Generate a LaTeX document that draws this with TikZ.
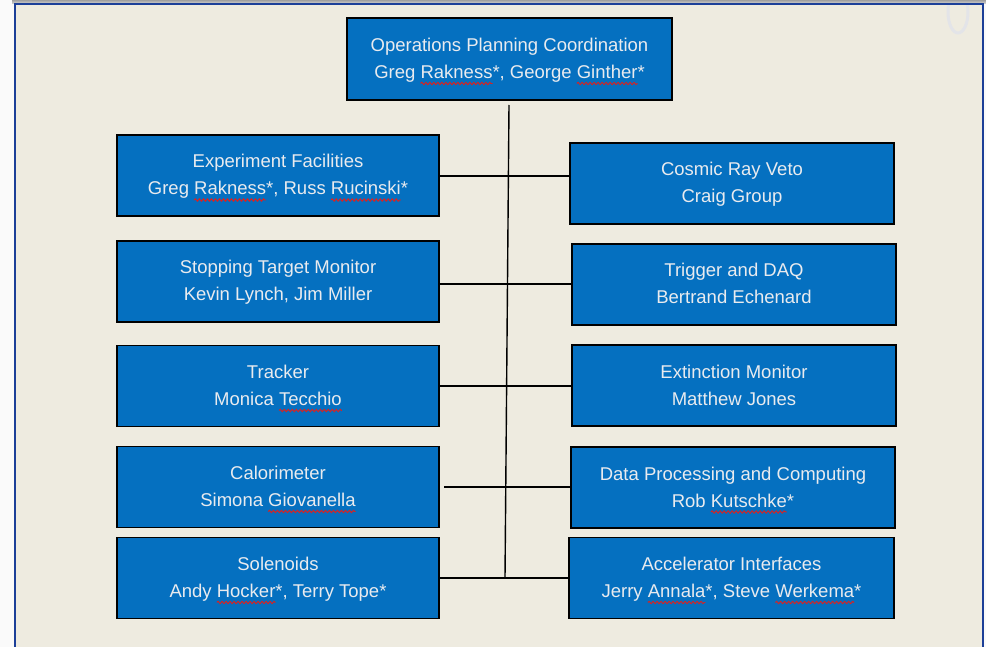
\documentclass[tikz,border=0pt]{standalone}
\usepackage{fontspec}
\setmainfont{Liberation Sans}
\usetikzlibrary{decorations.pathmorphing}
\definecolor{bg}{HTML}{EEEBE0}
\definecolor{frameblue}{HTML}{1C3F98}
\definecolor{boxblue}{HTML}{0570C0}
\definecolor{txt}{HTML}{E9EBEF}
\definecolor{ghost}{HTML}{E3E4E8}
\definecolor{spell}{HTML}{E0201C}
\newbox\sqbox
\newdimen\sqwd
\newcommand\sq[1]{\setbox\sqbox\hbox{#1}\sqwd=\wd\sqbox
  \tikz[overlay,baseline=0pt,x=1pt,y=1pt]\draw[fill=none,draw=spell,line width=0.9pt,
    decorate,decoration={snake,amplitude=1.2pt,segment length=4pt}]
    (0pt,-5pt) -- (\sqwd,-5pt);\box\sqbox}
\tikzset{
  box/.style={draw=black, line width=1.3pt, fill=boxblue, text=txt,
    font=\fontsize{18.5}{27}\selectfont, align=center, inner sep=0pt,
    text height=43pt, text depth=4pt, minimum height=81pt},
  lbox/.style={box, minimum width=322pt},
  rbox/.style={box, minimum width=324pt},
  conn/.style={draw=black, line width=1.4pt}
}
\begin{document}
\begin{tikzpicture}[x=1pt,y=-1pt]
\useasboundingbox (0,0) rectangle (986,647);
% page background
\fill[white!96!gray] (0,0) rectangle (986,647);
\shade[top color=gray!75, bottom color=gray!30] (12,0) rectangle (986,4);
\fill[bg] (15,4) rectangle (983,647);
\begin{scope}
  \clip (16,5) rectangle (982,646);
  \draw[ghost, line width=3pt] (958,12) ellipse [x radius=10pt, y radius=21pt];
\end{scope}
\draw[frameblue, line width=2pt] (15,650) -- (15,4) -- (983,4) -- (983,650);

% boxes
\node[box, minimum width=325pt, minimum height=82pt] (ops) at (509.5,59)
  {Operations Planning Coordination\\Greg \sq{Rakness}*, George \sq{Ginther}*};
\node[lbox] (exp) at (278,175.5)
  {Experiment Facilities\\Greg \sq{Rakness}*, Russ \sq{Rucinski}*};
\node[rbox] (crv) at (732,183.5) {Cosmic Ray Veto\\Craig Group};
\node[lbox] (stm) at (278,281.5) {Stopping Target Monitor\\Kevin Lynch, Jim Miller};
\node[rbox] (tdaq) at (734,284.5) {Trigger and DAQ\\Bertrand Echenard};
\node[lbox] (trk) at (278,386) {Tracker\\Monica \sq{Tecchio}};
\node[rbox] (ext) at (734,385.5) {Extinction Monitor\\Matthew Jones};
\node[lbox] (cal) at (278,487) {Calorimeter\\Simona \sq{Giovanella}};
\node[rbox] (dpc) at (733,487.5) {Data Processing and Computing\\Rob \sq{Kutschke}*};
\node[lbox] (sol) at (278,578) {Solenoids\\Andy \sq{Hocker}*, Terry Tope*};
\node[box, minimum width=325pt] (acc) at (731.5,578)
  {Accelerator Interfaces\\Jerry \sq{Annala}*, Steve \sq{Werkema}*};

% connectors
\coordinate (vtop) at (509,105);
\coordinate (vbot) at (505,578);
\coordinate (calstub) at (444,487);
\draw[conn] (vtop) -- (vbot);
\draw[conn] (exp.east |- 0,176) -- (crv.west |- 0,176);
\draw[conn] (stm.east |- 0,284) -- (tdaq.west |- 0,284);
\draw[conn] (trk.east |- 0,386) -- (ext.west |- 0,386);
\draw[conn] (calstub) -- (dpc.west |- calstub);
\draw[conn] (sol.east) -- (acc.west |- sol.east);
\end{tikzpicture}
\end{document}
